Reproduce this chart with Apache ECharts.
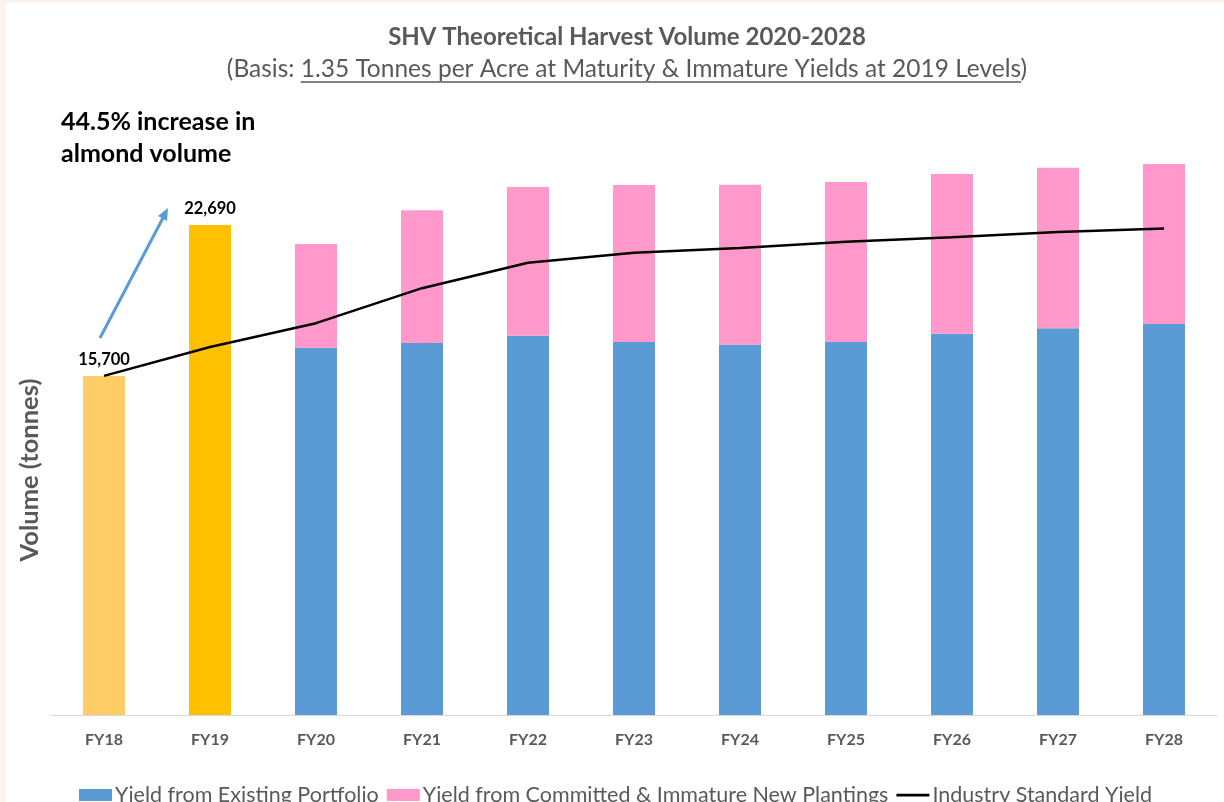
<!DOCTYPE html>
<html>
<head>
<meta charset="utf-8">
<script src="https://cdn.jsdelivr.net/npm/echarts@6/dist/echarts.min.js"></script>
<style>
  html, body { margin: 0; padding: 0; background: #fff; }
  #chart { width: 1224px; height: 802px; }
</style>
</head>
<body>
<div id="chart"></div>
<script>
const years = ['FY18', 'FY19', 'FY20', 'FY21', 'FY22', 'FY23', 'FY24', 'FY25', 'FY26', 'FY27', 'FY28'];
const historical = [15700, 22690, '-', '-', '-', '-', '-', '-', '-', '-', '-'];
const existing = ['-', '-', 17000, 17220, 17560, 17270, 17150, 17270, 17650, 17900, 18100];
const committed = ['-', '-', 4800, 6150, 6890, 7270, 7400, 7410, 7400, 7430, 7410];
const industry = [15700, 17040, 18140, 19760, 20940, 21400, 21620, 21910, 22120, 22360, 22520];

const grey = '#595959';
const font = 'Lato, "Noto Sans", sans-serif';

const subLead = '(Basis: ';
const subMain = '1.35 Tonnes per Acre at Maturity & Immature Yields at 2019 Levels';
const subFont = '24.5px ' + font;

// measure subtitle so the underline sits under the right words
const ctx = document.createElement('canvas').getContext('2d');
ctx.font = subFont;
const wLead = ctx.measureText(subLead).width;
const wMain = ctx.measureText(subMain).width;
const wAll = ctx.measureText(subLead + subMain + ')').width;
const subCx = 627;
const ulStart = subCx - wAll / 2 + wLead;

const chart = echarts.init(document.getElementById('chart'));
chart.setOption({
  backgroundColor: '#fff',
  textStyle: { fontFamily: font },
  animation: false,
  grid: { left: 51, right: 7, top: 67, bottom: 87, containLabel: false },
  xAxis: {
    type: 'category',
    data: years,
    axisLine: { lineStyle: { color: '#d9d9d9', width: 1 } },
    axisTick: { show: false },
    axisLabel: { color: grey, fontSize: 16, fontWeight: 'bold', margin: 17 }
  },
  yAxis: {
    type: 'value', min: 0, max: 30000,
    show: false, splitLine: { show: false }
  },
  legend: {
    left: 74, top: 779,
    itemWidth: 33, itemHeight: 12, itemGap: 8,
    textStyle: { color: grey, fontSize: 21.5, fontFamily: font, padding: [0, 0, 0, -2] },
    data: [
      { name: 'Yield from Existing Portfolio', icon: 'rect' },
      { name: 'Yield from Committed & Immature New Plantings', icon: 'rect' },
      { name: 'Industry Standard Yield', icon: 'path://M0,0H36V3H0Z' }
    ]
  },
  series: [{
    name: 'Historical',
    type: 'bar', stack: 'v', barWidth: 42,
    data: historical.map((v, i) => ({
      value: v,
      itemStyle: { color: i === 0 ? '#ffcc66' : '#ffc000' }
    })),
    label: {
      show: true, position: 'top', distance: 8,
      color: '#000', fontSize: 16.5, fontWeight: 'bold',
      formatter: p => p.value.toLocaleString('en-US')
    }
  }, {
    name: 'Yield from Existing Portfolio',
    type: 'bar', stack: 'v', barWidth: 42,
    itemStyle: { color: '#5b9bd5' },
    data: existing
  }, {
    name: 'Yield from Committed & Immature New Plantings',
    type: 'bar', stack: 'v', barWidth: 42,
    itemStyle: { color: '#ff99cc' },
    data: committed
  }, {
    name: 'Industry Standard Yield',
    type: 'line', symbol: 'none', z: 5,
    lineStyle: { color: '#000', width: 2.5 },
    itemStyle: { color: '#000' },
    data: industry
  }],
  graphic: [
    { type: 'rect', shape: { x: 0, y: 0, width: 1224, height: 3 }, style: { fill: '#fbf4ee' }, silent: true },
    { type: 'rect', shape: { x: 0, y: 0, width: 6, height: 802 }, style: { fill: '#fbf4ee' }, silent: true },
    {
      type: 'text', x: 627, y: 37,
      style: {
        text: 'SHV Theoretical Harvest Volume 2020-2028',
        font: 'bold 24px ' + font, fill: grey,
        align: 'center', verticalAlign: 'middle'
      }
    },
    {
      type: 'text', x: subCx, y: 69,
      style: {
        text: subLead + subMain + ')',
        font: subFont, fill: grey,
        align: 'center', verticalAlign: 'middle'
      }
    },
    {
      type: 'line',
      shape: { x1: ulStart, y1: 82, x2: ulStart + wMain, y2: 82 },
      style: { stroke: grey, lineWidth: 1.3 }
    },
    {
      type: 'text', left: 61, top: 106,
      style: {
        text: '44.5% increase in\nalmond volume',
        font: 'bold 25px ' + font, fill: '#000', lineHeight: 32
      }
    },
    {
      type: 'text', x: 30, y: 470, rotation: Math.PI / 2,
      style: {
        text: 'Volume (tonnes)', font: 'bold 25.5px ' + font, fill: grey,
        align: 'center', verticalAlign: 'middle'
      }
    },
    {
      type: 'line',
      shape: { x1: 100, y1: 338, x2: 164, y2: 216 },
      style: { stroke: '#5b9bd5', lineWidth: 3 }
    },
    {
      type: 'polygon',
      shape: { points: [[168, 208], [167, 221], [158, 216]] },
      style: { fill: '#5b9bd5' }
    }
  ]
});
</script>
</body>
</html>
